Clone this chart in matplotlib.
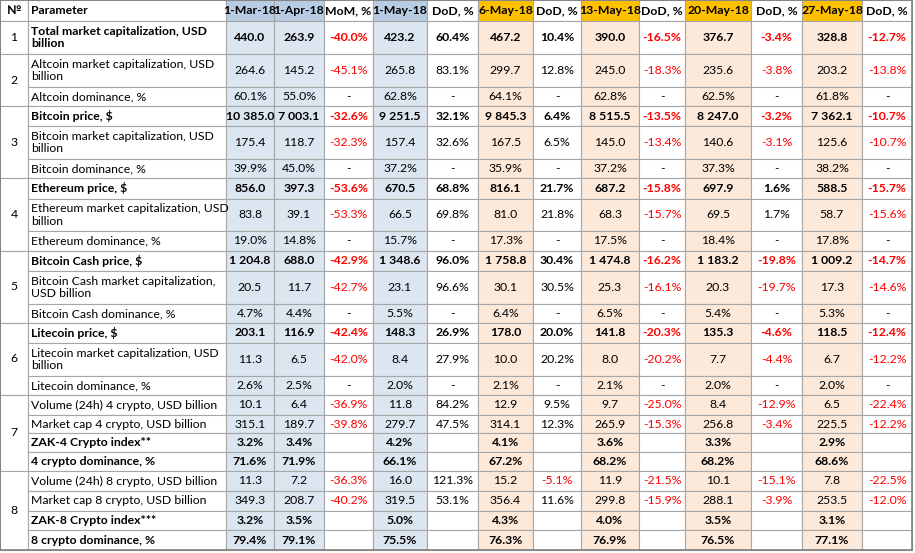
import matplotlib.pyplot as plt
from matplotlib.patches import Rectangle

headers = ['№', 'Parameter', '1-Mar-18', '1-Apr-18', 'MoM, %', '1-May-18', 'DoD, %',
           '6-May-18', 'DoD, %', '13-May-18', 'DoD, %', '20-May-18', 'DoD, %', '27-May-18', 'DoD, %']

groups = ['1', '2', '2', '3', '3', '3', '4', '4', '4', '5', '5', '5', '6', '6', '6',
          '7', '7', '7', '7', '8', '8', '8', '8']
labels = ['Total market capitalization, USD\nbillion',
          'Altcoin market capitalization, USD\nbillion', 'Altcoin dominance, %',
          'Bitcoin price, $', 'Bitcoin market capitalization, USD\nbillion', 'Bitcoin dominance, %',
          'Ethereum price, $', 'Ethereum market capitalization, USD\nbillion', 'Ethereum dominance, %',
          'Bitcoin Cash price, $', 'Bitcoin Cash market capitalization,\nUSD billion', 'Bitcoin Cash dominance, %',
          'Litecoin price, $', 'Litecoin market capitalization, USD\nbillion', 'Litecoin dominance, %',
          'Volume (24h) 4 crypto, USD billion', 'Market cap 4 crypto, USD billion',
          'ZAK-4 Crypto index**', '4 crypto dominance, %',
          'Volume (24h) 8 crypto, USD billion', 'Market cap 8 crypto, USD billion',
          'ZAK-8 Crypto index***', '8 crypto dominance, %']
bold = [1, 0, 0, 1, 0, 0, 1, 0, 0, 1, 0, 0, 1, 0, 0, 0, 0, 1, 1, 0, 0, 1, 1]
values = [
    ['440.0', '263.9', '-40.0%', '423.2', '60.4%', '467.2', '10.4%', '390.0', '-16.5%', '376.7', '-3.4%', '328.8', '-12.7%'],
    ['264.6', '145.2', '-45.1%', '265.8', '83.1%', '299.7', '12.8%', '245.0', '-18.3%', '235.6', '-3.8%', '203.2', '-13.8%'],
    ['60.1%', '55.0%', '-', '62.8%', '-', '64.1%', '-', '62.8%', '-', '62.5%', '-', '61.8%', '-'],
    ['10 385.0', '7 003.1', '-32.6%', '9 251.5', '32.1%', '9 845.3', '6.4%', '8 515.5', '-13.5%', '8 247.0', '-3.2%', '7 362.1', '-10.7%'],
    ['175.4', '118.7', '-32.3%', '157.4', '32.6%', '167.5', '6.5%', '145.0', '-13.4%', '140.6', '-3.1%', '125.6', '-10.7%'],
    ['39.9%', '45.0%', '-', '37.2%', '-', '35.9%', '-', '37.2%', '-', '37.3%', '-', '38.2%', '-'],
    ['856.0', '397.3', '-53.6%', '670.5', '68.8%', '816.1', '21.7%', '687.2', '-15.8%', '697.9', '1.6%', '588.5', '-15.7%'],
    ['83.8', '39.1', '-53.3%', '66.5', '69.8%', '81.0', '21.8%', '68.3', '-15.7%', '69.5', '1.7%', '58.7', '-15.6%'],
    ['19.0%', '14.8%', '-', '15.7%', '-', '17.3%', '-', '17.5%', '-', '18.4%', '-', '17.8%', '-'],
    ['1 204.8', '688.0', '-42.9%', '1 348.6', '96.0%', '1 758.8', '30.4%', '1 474.8', '-16.2%', '1 183.2', '-19.8%', '1 009.2', '-14.7%'],
    ['20.5', '11.7', '-42.7%', '23.1', '96.6%', '30.1', '30.5%', '25.3', '-16.1%', '20.3', '-19.7%', '17.3', '-14.6%'],
    ['4.7%', '4.4%', '-', '5.5%', '-', '6.4%', '-', '6.5%', '-', '5.4%', '-', '5.3%', '-'],
    ['203.1', '116.9', '-42.4%', '148.3', '26.9%', '178.0', '20.0%', '141.8', '-20.3%', '135.3', '-4.6%', '118.5', '-12.4%'],
    ['11.3', '6.5', '-42.0%', '8.4', '27.9%', '10.0', '20.2%', '8.0', '-20.2%', '7.7', '-4.4%', '6.7', '-12.2%'],
    ['2.6%', '2.5%', '-', '2.0%', '-', '2.1%', '-', '2.1%', '-', '2.0%', '-', '2.0%', '-'],
    ['10.1', '6.4', '-36.9%', '11.8', '84.2%', '12.9', '9.5%', '9.7', '-25.0%', '8.4', '-12.9%', '6.5', '-22.4%'],
    ['315.1', '189.7', '-39.8%', '279.7', '47.5%', '314.1', '12.3%', '265.9', '-15.3%', '256.8', '-3.4%', '225.5', '-12.2%'],
    ['3.2%', '3.4%', '', '4.2%', '', '4.1%', '', '3.6%', '', '3.3%', '', '2.9%', ''],
    ['71.6%', '71.9%', '', '66.1%', '', '67.2%', '', '68.2%', '', '68.2%', '', '68.6%', ''],
    ['11.3', '7.2', '-36.3%', '16.0', '121.3%', '15.2', '-5.1%', '11.9', '-21.5%', '10.1', '-15.1%', '7.8', '-22.5%'],
    ['349.3', '208.7', '-40.2%', '319.5', '53.1%', '356.4', '11.6%', '299.8', '-15.9%', '288.1', '-3.9%', '253.5', '-12.0%'],
    ['3.2%', '3.5%', '', '5.0%', '', '4.3%', '', '4.0%', '', '3.5%', '', '3.1%', ''],
    ['79.4%', '79.1%', '', '75.5%', '', '76.3%', '', '76.9%', '', '76.5%', '', '77.1%', ''],
]

# layout in pixels
col_x = [0, 28, 226, 274, 324, 373, 427, 478, 533, 581, 639, 685, 751, 802, 862, 912]
row_y = [0, 21, 54, 87, 106, 126, 159, 178, 199, 231, 251, 271, 304, 323, 343, 376, 395,
         415, 433, 452, 471, 491, 511, 530, 550]

blue_h, blue = '#B8CCE4', '#DCE6F1'
orng_h, orng = '#FFC000', '#FDE9D9'
col_fill = {2: (blue_h, blue), 3: (blue_h, blue), 5: (blue_h, blue),
            7: (orng_h, orng), 9: (orng_h, orng), 11: (orng_h, orng), 13: (orng_h, orng)}
grid = '#A6A6A6'
font = ['Lato', 'DejaVu Sans']
fs = 8.8

fig = plt.figure(figsize=(9.15, 5.53), dpi=100)
ax = fig.add_axes([0, 0, 1, 1])
ax.set_xlim(0, 915)
ax.set_ylim(553, 0)
ax.axis('off')

def cell(c, r0, r1, fill=None):
    x0, x1 = col_x[c], col_x[c + 1]
    y0, y1 = row_y[r0], row_y[r1]
    ax.add_patch(Rectangle((x0, y0), x1 - x0, y1 - y0, facecolor=fill or 'white',
                           edgecolor=grid, lw=0.8))
    return x0, x1, y0, y1

# header
for c, h in enumerate(headers):
    fill = col_fill[c][0] if c in col_fill else None
    x0, x1, y0, y1 = cell(c, 0, 1, fill)
    ha = 'left' if c == 1 else 'center'
    x = x0 + 3 if c == 1 else (x0 + x1) / 2
    ax.text(x, (y0 + y1) / 2, h, ha=ha, va='center', fontsize=fs, fontweight='bold', family=font)

# group numbers
r = 0
while r < len(groups):
    r_end = r
    while r_end < len(groups) and groups[r_end] == groups[r]:
        r_end += 1
    x0, x1, y0, y1 = cell(0, r + 1, r_end + 1)
    ax.text((x0 + x1) / 2, (y0 + y1) / 2, groups[r], ha='center', va='center', fontsize=fs, family=font)
    r = r_end

for i, (lab, b, vals) in enumerate(zip(labels, bold, values)):
    w = 'bold' if b else 'normal'
    x0, x1, y0, y1 = cell(1, i + 1, i + 2)
    ax.text(x0 + 3, (y0 + y1) / 2, lab, ha='left', va='center', fontsize=fs, fontweight=w,
            family=font, linespacing=1.2)
    for j, v in enumerate(vals):
        c = j + 2
        fill = col_fill[c][1] if c in col_fill else None
        x0, x1, y0, y1 = cell(c, i + 1, i + 2, fill)
        color = 'red' if v.startswith('-') and len(v) > 1 else 'black'
        ax.text((x0 + x1) / 2, (y0 + y1) / 2, v, ha='center', va='center', fontsize=fs,
                fontweight=w, color=color, family=font)

ax.add_patch(Rectangle((0, 0), 912, 550, fill=False, edgecolor='#808080', lw=1.2))

fig.savefig('out.png', dpi=100)
